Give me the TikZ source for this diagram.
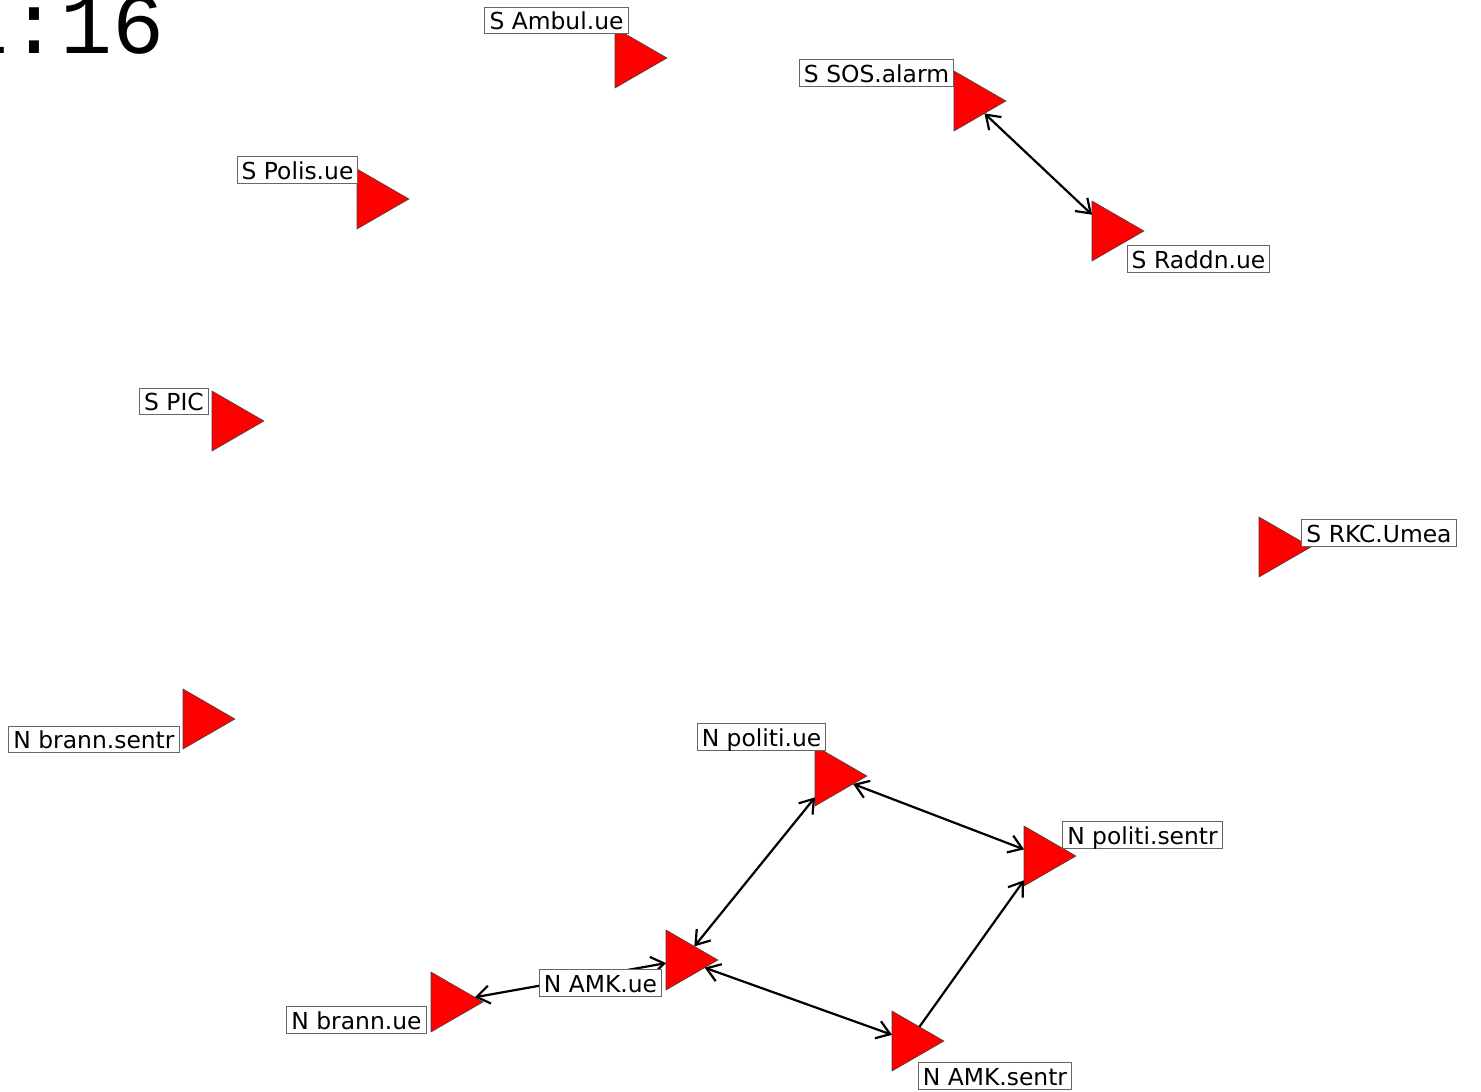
\documentclass[tikz,border=0pt]{standalone}
\usepackage{fontspec}
\setmainfont{DejaVu Sans}
\newfontfamily\clockfont{Liberation Mono}
\usetikzlibrary{shapes.geometric,arrows.meta}
\begin{document}
\begin{tikzpicture}[x=0.5pt, y=-0.5pt,
  vert/.style={regular polygon, regular polygon sides=3, shape border rotate=-90,
    minimum size=34.6pt, inner sep=0pt, outer sep=0pt, fill=red, draw=black!75, line width=0.3pt},
  lbl/.style={draw=black!60, line width=0.5pt, fill=white, font=\fontsize{11.7}{14}\selectfont,
    inner xsep=2.3pt, inner ysep=0.5pt, text height=10.8pt, text depth=1.5pt},
  barb/.tip={Straight Barb[length=6.5pt,width=9pt]},
  tie/.style={line width=1.1pt, barb-barb},
  oneway/.style={line width=1.1pt, -barb}]
\useasboundingbox (0,0) rectangle (1481,1091);
\node[anchor=base west, inner sep=0pt, font=\clockfont\fontsize{43.3}{50}\selectfont] (clock) at (-44,54) {1:16};
% vertices
\node[vert] (amb) at (632.3,58) {};
\node[vert] (sos) at (971.3,101) {};
\node[vert] (pol) at (374.3,199) {};
\node[vert] (rad) at (1109.3,231) {};
\node[vert] (pic) at (229.3,421) {};
\node[vert] (rkc) at (1276.3,547) {};
\node[vert] (bsen) at (200.3,719) {};
\node[vert] (pue) at (832.3,776) {};
\node[vert] (psen) at (1041.3,856) {};
\node[vert] (aue) at (683.3,960) {};
\node[vert] (bue) at (448.3,1002) {};
\node[vert] (asen) at (909.3,1041) {};
% ties
\draw[tie] (sos) -- (rad);
\draw[tie] (pue) -- (psen);
\draw[tie] (pue) -- (aue);
\draw[tie] (aue) -- (asen);
\draw[tie] (aue) -- (bue);
\draw[oneway] (asen) -- (psen);
% labels
\node[lbl] (ambL) at (556.5,20.5) {S Ambul.ue};
\node[lbl] (sosL) at (876.5,73) {S SOS.alarm};
\node[lbl] (polL) at (297.5,170) {S Polis.ue};
\node[lbl] (radL) at (1198.5,259) {S Raddn.ue};
\node[lbl] (picL) at (174,401.5) {S PIC};
\node[lbl] (rkcL) at (1379,533) {S RKC.Umea};
\node[lbl] (bsenL) at (94,739.5) {N brann.sentr};
\node[lbl] (pueL) at (761.5,737) {N politi.ue};
\node[lbl] (psenL) at (1142.5,835) {N politi.sentr};
\node[lbl] (aueL) at (600.5,983) {N AMK.ue};
\node[lbl] (bueL) at (356.5,1020) {N brann.ue};
\node[lbl] (asenL) at (995,1076) {N AMK.sentr};
\end{tikzpicture}
\end{document}
